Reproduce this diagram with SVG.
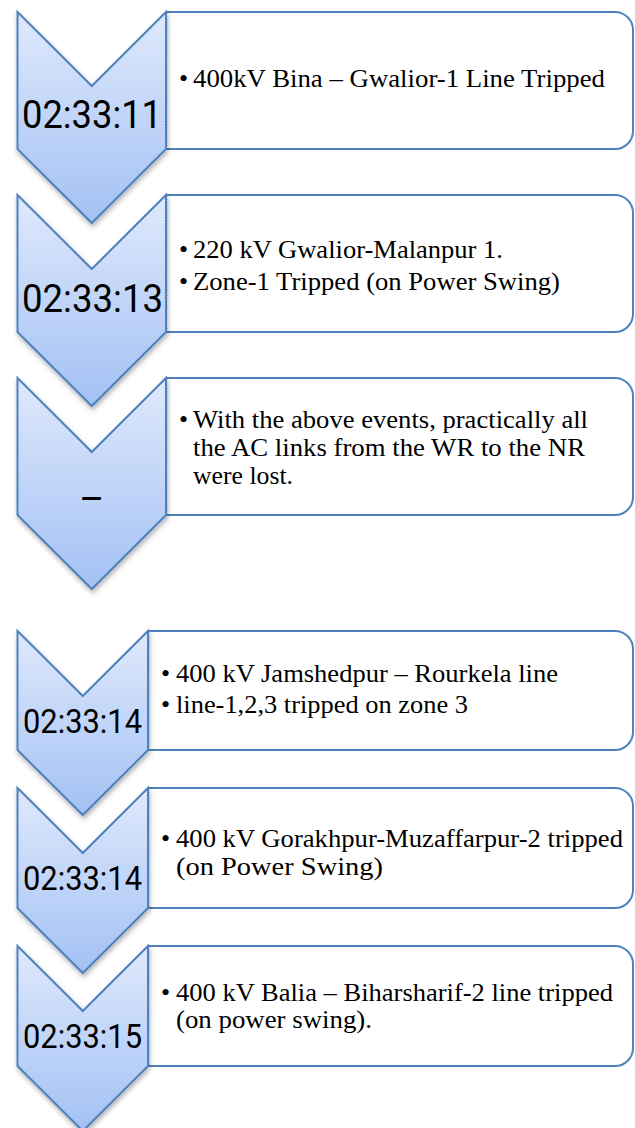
<svg xmlns="http://www.w3.org/2000/svg" width="635" height="1128" viewBox="0 0 635 1128">
<defs>
<linearGradient id="chevFill" x1="0" y1="0" x2="0" y2="1">
<stop offset="0" stop-color="#dfe9fc"/>
<stop offset="1" stop-color="#a3c1f4"/>
</linearGradient>
<filter id="shadow" x="-20%" y="-10%" width="140%" height="130%">
<feDropShadow dx="1" dy="3" stdDeviation="2.5" flood-color="#000" flood-opacity="0.3"/>
</filter>
</defs>
<style>
.chev{fill:url(#chevFill);stroke:#4f81bd;stroke-width:2;stroke-linejoin:miter;filter:url(#shadow)}
.box{fill:#fff;stroke:#4f81bd;stroke-width:2}
.edge{stroke:#d6d6d6;stroke-width:1;stroke-dasharray:1 2;fill:none}
.ts{font-family:Roboto,"Liberation Sans",sans-serif;fill:#000}
.big{font-size:38px}
.small{font-size:33px}
.tx{font-family:"Liberation Serif","Times New Roman",serif;font-size:26px;fill:#000}
</style>
<rect width="635" height="1128" fill="#fff"/>
<g id="connectors"/>

<g id="box1">
<path class="box" d="M166,12 H615 A18,18 0 0 1 633,30 V131 A18,18 0 0 1 615,149 H166"/>
<line class="edge" x1="167.5" y1="13" x2="167.5" y2="148"/>
<text class="tx" x="179" y="87">•</text>
<text class="tx" x="193" y="87" textLength="412" lengthAdjust="spacingAndGlyphs">400kV Bina – Gwalior-1 Line Tripped</text>
</g>
<g id="box2">
<path class="box" d="M166,195 H615 A18,18 0 0 1 633,213 V314 A18,18 0 0 1 615,332 H166"/>
<line class="edge" x1="167.5" y1="196" x2="167.5" y2="331"/>
<text class="tx" x="179" y="258">•</text>
<text class="tx" x="193" y="258" textLength="310" lengthAdjust="spacingAndGlyphs">220 kV Gwalior-Malanpur 1.</text>
<text class="tx" x="179" y="290">•</text>
<text class="tx" x="193" y="290" textLength="367" lengthAdjust="spacingAndGlyphs">Zone-1 Tripped (on Power Swing)</text>
</g>
<g id="box3">
<path class="box" d="M166,378 H615 A18,18 0 0 1 633,396 V497 A18,18 0 0 1 615,515 H166"/>
<line class="edge" x1="167.5" y1="379" x2="167.5" y2="514"/>
<text class="tx" x="179" y="428">•</text>
<text class="tx" x="193" y="428" textLength="395" lengthAdjust="spacingAndGlyphs">With the above events, practically all</text>
<text class="tx" x="193" y="456" textLength="392" lengthAdjust="spacingAndGlyphs">the AC links from the WR to the NR</text>
<text class="tx" x="193" y="484" textLength="100" lengthAdjust="spacingAndGlyphs">were lost.</text>
</g>
<g id="box4">
<path class="box" d="M148,631 H615 A18,18 0 0 1 633,649 V732 A18,18 0 0 1 615,750 H148"/>
<line class="edge" x1="149.5" y1="632" x2="149.5" y2="749"/>
<text class="tx" x="161" y="682">•</text>
<text class="tx" x="176" y="682" textLength="382" lengthAdjust="spacingAndGlyphs">400 kV Jamshedpur – Rourkela line</text>
<text class="tx" x="161" y="713">•</text>
<text class="tx" x="176" y="713" textLength="292" lengthAdjust="spacingAndGlyphs">line-1,2,3 tripped on zone 3</text>
</g>
<g id="box5">
<path class="box" d="M148,788 H615 A18,18 0 0 1 633,806 V890 A18,18 0 0 1 615,908 H148"/>
<line class="edge" x1="149.5" y1="789" x2="149.5" y2="907"/>
<text class="tx" x="161" y="847">•</text>
<text class="tx" x="176" y="847" textLength="447" lengthAdjust="spacingAndGlyphs">400 kV Gorakhpur-Muzaffarpur-2 tripped</text>
<text class="tx" x="176" y="875" textLength="207" lengthAdjust="spacingAndGlyphs">(on Power Swing)</text>
</g>
<g id="box6">
<path class="box" d="M148,946 H615 A18,18 0 0 1 633,964 V1048 A18,18 0 0 1 615,1066 H148"/>
<line class="edge" x1="149.5" y1="947" x2="149.5" y2="1065"/>
<text class="tx" x="161" y="1001">•</text>
<text class="tx" x="176" y="1001" textLength="437" lengthAdjust="spacingAndGlyphs">400 kV Balia – Biharsharif-2 line tripped</text>
<text class="tx" x="176" y="1028" textLength="196" lengthAdjust="spacingAndGlyphs">(on power swing).</text>
</g>

<g id="chevron1">
<path class="chev" d="M17.5,12 L91.75,86 L166,12 L166,149 L91.75,223 L17.5,149 Z"/>
<text class="ts big" x="22" y="128" textLength="140" lengthAdjust="spacingAndGlyphs">02:33:11</text>
</g>
<g id="chevron2">
<path class="chev" d="M17.5,195 L91.75,269 L166,195 L166,332 L91.75,406 L17.5,332 Z"/>
<text class="ts big" x="22" y="312" textLength="141" lengthAdjust="spacingAndGlyphs">02:33:13</text>
</g>
<g id="chevron3">
<path class="chev" d="M17.5,378 L91.75,452 L166,378 L166,515 L91.75,589 L17.5,515 Z"/>
<text class="ts big" x="91.75" y="512" text-anchor="middle">–</text>
</g>
<g id="chevron4">
<path class="chev" d="M17.5,631 L82.75,696 L148,631 L148,750 L82.75,815 L17.5,750 Z"/>
<text class="ts small" x="23" y="733" textLength="119" lengthAdjust="spacingAndGlyphs">02:33:14</text>
</g>
<g id="chevron5">
<path class="chev" d="M17.5,788 L82.75,853 L148,788 L148,908 L82.75,973 L17.5,908 Z"/>
<text class="ts small" x="23" y="890" textLength="119" lengthAdjust="spacingAndGlyphs">02:33:14</text>
</g>
<g id="chevron6">
<path class="chev" d="M17.5,946 L82.75,1011 L148,946 L148,1066 L82.75,1131 L17.5,1066 Z"/>
<text class="ts small" x="23" y="1048" textLength="119" lengthAdjust="spacingAndGlyphs">02:33:15</text>
</g>
</svg>
